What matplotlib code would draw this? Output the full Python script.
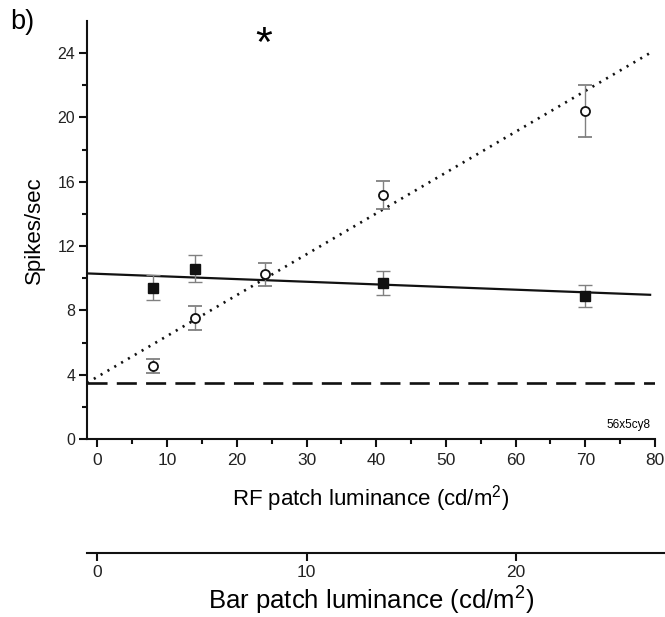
import numpy as np
import matplotlib
matplotlib.use("Agg")
import matplotlib.pyplot as plt

plt.rcParams["font.family"] = ["Liberation Sans", "DejaVu Sans"]
plt.rcParams["mathtext.fontset"] = "custom"
plt.rcParams["mathtext.rm"] = "Liberation Sans"
plt.rcParams["mathtext.it"] = "Liberation Sans"
plt.rcParams["mathtext.bf"] = "Liberation Sans"

# filled squares (bar patch condition)
sq_x = [8, 14, 41, 70]
sq_y = [9.4, 10.6, 9.7, 8.9]
sq_err = [0.78, 0.85, 0.77, 0.68]

# open circles (RF patch condition)
ci_x = [8, 14, 24, 41, 70]
ci_y = [4.55, 7.55, 10.25, 15.17, 20.4]
ci_err = [0.45, 0.75, 0.72, 0.89, 1.6]

# fitted lines: intercept, slope
solid_fit = [10.275, -0.01646]
dotted_fit = [3.87, 0.254]
baseline = 3.46

fig = plt.figure(figsize=(6.65, 6.17), dpi=100)
ax = fig.add_axes([87 / 665, 1 - 439 / 617, 568 / 665, 418 / 617])

xs = np.array([-1.5, 79.3])
ax.plot(xs, solid_fit[0] + solid_fit[1] * xs, color="#111111", lw=1.6, zorder=2)
ax.plot(xs, dotted_fit[0] + dotted_fit[1] * xs, color="#111111", lw=1.9,
        linestyle=(0, (0.8, 2.2)), zorder=2)
ax.plot([-1.5, 80], [baseline, baseline], color="#111111", lw=1.9,
        dashes=[7.6, 3.5], zorder=2)

ax.errorbar(sq_x, sq_y, yerr=sq_err, fmt="s", color="#111111", ms=6.5,
            ecolor="#808080", elinewidth=1, capsize=5, capthick=1, zorder=3)
ax.errorbar(ci_x, ci_y, yerr=ci_err, fmt="o", mfc="white", mec="#111111",
            mew=1.3, ms=6.5, ecolor="#808080", elinewidth=1, capsize=5,
            capthick=1, zorder=4)

ax.set_xlim(-1.5, 80)
ax.set_ylim(0, 26)
ax.set_xticks(np.arange(0, 81, 10))
ax.set_xticks(np.arange(5, 80, 10), minor=True)
ax.set_yticks(np.arange(0, 25, 4))
ax.set_yticks(np.arange(2, 26, 4), minor=True)
for s in ["top", "right"]:
    ax.spines[s].set_visible(False)
for s in ["left", "bottom"]:
    ax.spines[s].set_linewidth(1.5)
    ax.spines[s].set_color("#111111")
ax.tick_params(axis="both", which="major", direction="out", length=5.5,
               width=1.5, color="#111111")
ax.tick_params(axis="both", which="minor", direction="out", length=3.5,
               width=1.5, color="#111111")
ax.tick_params(axis="x", labelsize=12.5, pad=4.5, labelcolor="#222222")
ax.tick_params(axis="y", labelsize=11.5, pad=3, labelcolor="#222222")

ax.text(79.3, 0.87, "56x5cy8", fontsize=8.5, ha="right", va="center")
ax.text(23.8, 24.5, "*", fontsize=31, ha="center", va="center")

fig.text(34 / 665, 1 - 230 / 617, "Spikes/sec", fontsize=16, rotation=90,
         ha="center", va="center")
fig.text(371 / 665, 1 - 505 / 617, "RF patch luminance (cd/m$^2$)",
         fontsize=16, ha="center", va="baseline")
fig.text(10 / 665, 1 - 22 / 617, "b)", fontsize=19.5, ha="left", va="center")

# second axis for bar patch luminance (RF / 3)
ax2 = fig.add_axes([87 / 665, 1 - 553 / 617, 578 / 665, 0.001])
ax2.set_xlim(-0.5, 27.13)
ax2.set_yticks([])
ax2.set_xticks([0, 10, 20])
for s in ["top", "right", "left"]:
    ax2.spines[s].set_visible(False)
ax2.spines["bottom"].set_linewidth(1.5)
ax2.spines["bottom"].set_color("#111111")
ax2.patch.set_alpha(0)
ax2.tick_params(axis="x", direction="out", length=5.5, width=1.5,
                color="#111111", labelsize=12.5, pad=3, labelcolor="#222222")
fig.text(371 / 665, 1 - 610 / 617, "Bar patch luminance (cd/m$^2$)",
         fontsize=18.5, ha="center", va="baseline")

fig.savefig("out.png", dpi=100)
